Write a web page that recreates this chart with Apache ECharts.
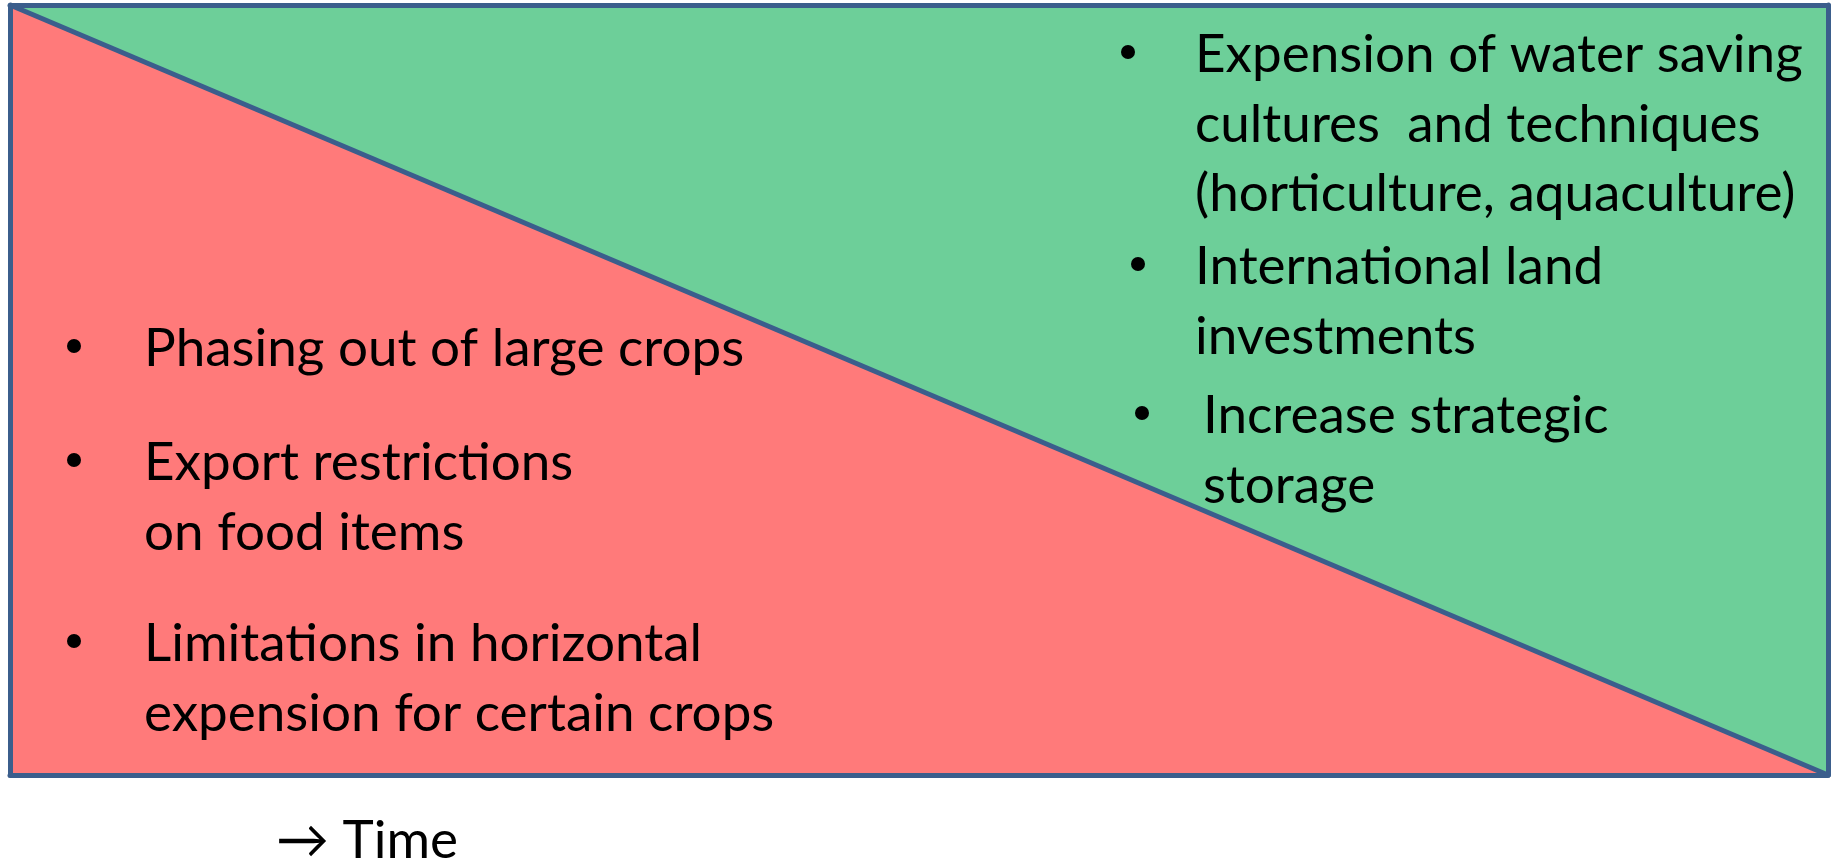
<!DOCTYPE html>
<head>
    <meta charset="utf-8">
    <title>ECharts</title>
    <script type="text/javascript" src="https://cdn.jsdelivr.net/npm/echarts@6/dist/echarts.min.js"></script>
    <style>
        html, body { margin: 0; padding: 0; background: #fff; }
        #main { width: 1837px; height: 860px; }
    </style>
</head>
<body>
    <div id="main"></div>
    <script type="text/javascript">
     // time runs left -> right, 0..1
     var timeSteps = [0, 1];
     // upper (green) zone spans the full height
     var greenLevel = [1, 1];
     // lower (red) zone shrinks over time
     var redLevel = [1, 0];

     var leftItems = [
         ['Phasing out of large crops'],
         ['Export restrictions', 'on food items'],
         ['Limitations in horizontal', 'expension for certain crops']
     ];
     var rightItems = [
         ['Expension of water saving', 'cultures  and techniques', '(horticulture, aquaculture)'],
         ['International land', 'investments'],
         ['Increase strategic', 'storage']
     ];
     var axisLabel = '\u2192 Time';

     var FONT = 'Lato';
     var SIZE = 53;
     var LINE_H = 69.5;
     var borderColor = '#3B5E8C';

     function pair(xs, ys) {
         return xs.map(function (x, i) { return [x, ys[i]]; });
     }

     // bullet blocks: [bulletX, textX, firstLineY]
     var leftPos = [[74, 144, 349], [74, 144, 463], [74, 144, 644]];
     var rightPos = [[1128, 1195, 55], [1138, 1195, 267], [1142, 1203, 416]];

     var graphics = [];
     function addBlock(lines, pos) {
         graphics.push({
             type: 'circle', z: 100,
             shape: { cx: pos[0], cy: pos[2] - 3, r: 7 },
             style: { fill: '#000' }
         });
         lines.forEach(function (t, i) {
             graphics.push({
                 type: 'text', z: 100,
                 x: pos[1], y: pos[2] + i * LINE_H,
                 style: {
                     text: t, fill: '#000',
                     font: SIZE + 'px ' + FONT,
                     textAlign: 'left', textVerticalAlign: 'middle'
                 }
             });
         });
     }
     leftItems.forEach(function (l, i) { addBlock(l, leftPos[i]); });
     rightItems.forEach(function (l, i) { addBlock(l, rightPos[i]); });
     graphics.push({
         type: 'text', z: 100, x: 276, y: 841,
         style: { text: axisLabel, fill: '#000', font: SIZE + 'px ' + FONT, textVerticalAlign: 'middle' }
     });

     var edge = { show: true, onZero: false, lineStyle: { color: borderColor, width: 5 } };
     function hiddenAxis(pos, extra) {
         return Object.assign({
             type: 'value', min: 0, max: 1, position: pos, z: 10,
             axisLine: edge, axisTick: { show: false }, axisLabel: { show: false }, splitLine: { show: false }
         }, extra || {});
     }

     var myChart = echarts.init(document.getElementById('main'), null, { renderer: 'canvas' });
     myChart.setOption({
         animation: false,
         grid: { left: 10, right: 9, top: 5, bottom: 85 },
         xAxis: [hiddenAxis('bottom'), hiddenAxis('top')],
         yAxis: [hiddenAxis('left'), hiddenAxis('right')],
         series: [
             {
                 type: 'line', data: pair(timeSteps, greenLevel),
                 symbol: 'none', lineStyle: { width: 0 },
                 areaStyle: { color: '#6DCF99', opacity: 1 }
             },
             {
                 type: 'line', data: pair(timeSteps, redLevel),
                 symbol: 'none', z: 5,
                 lineStyle: { color: borderColor, width: 5 },
                 areaStyle: { color: '#FF7A7A', opacity: 1 }
             }
         ],
         graphic: graphics
     });
    </script>
</body>
